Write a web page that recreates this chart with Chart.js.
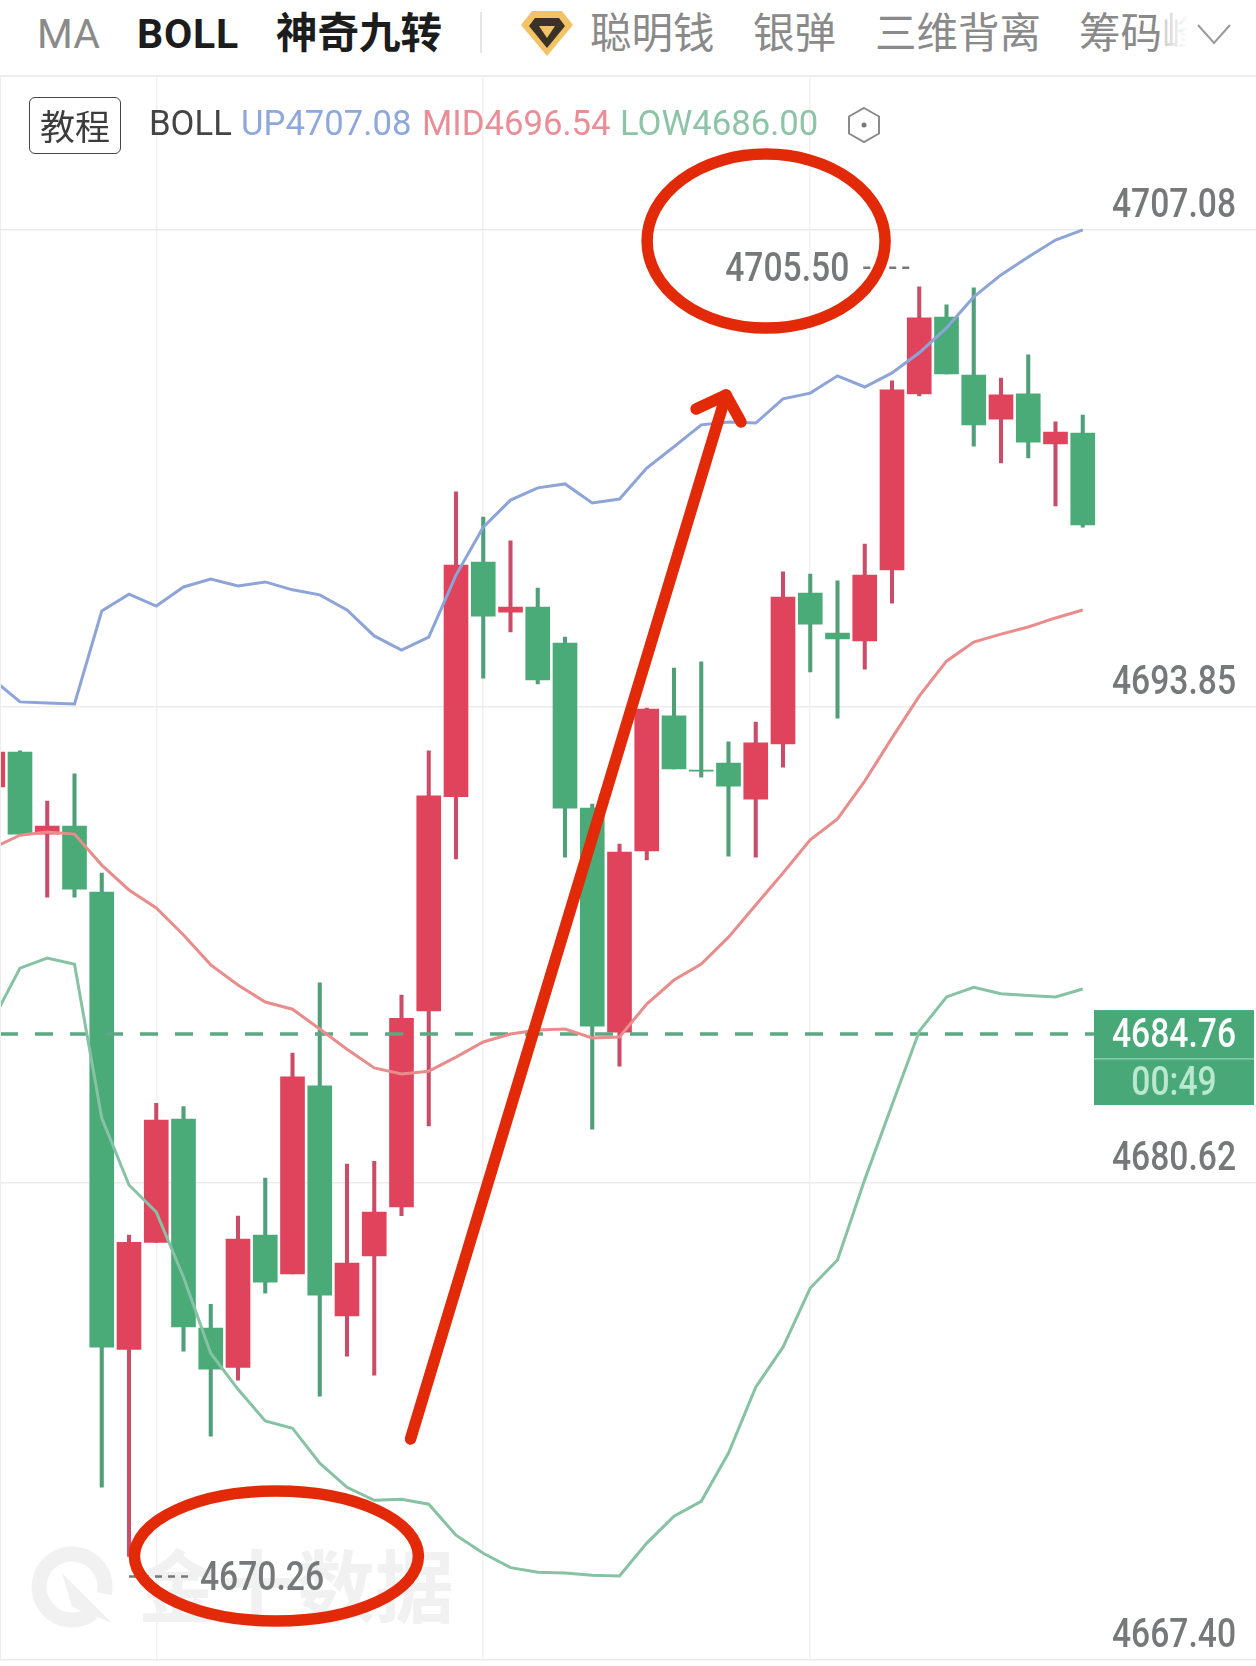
<!DOCTYPE html>
<html>
<head>
<meta charset="utf-8">
<title>BOLL</title>
<script src="https://cdn.jsdelivr.net/npm/chart.js@4/dist/chart.umd.min.js"></script>
<style>
  html, body { margin: 0; background: #fff; width: 1256px; height: 1666px; overflow: hidden; }
  body { position: relative; font-family: Roboto, "Noto Sans CJK SC", sans-serif; }
  .t { position: absolute; white-space: nowrap; line-height: 1; }
  #tabs .t { top: 14px; font-size: 41px; color: #8a8a8a; font-family: Roboto, "Noto Sans CJK SC", sans-serif; }
  #tabs .cn { font-size: 41.500px; top: 13px; }
  #tabs .on { color: #1c1c1c; font-weight: 700; }
  #fade { position: absolute; left: 1164px; top: 0; width: 80px; height: 70px; background: linear-gradient(to right, rgba(255,255,255,0.6), #fff 24px); }
  #sep { position: absolute; left: 480px; top: 12px; width: 2px; height: 41px; background: #e6e6e6; }
  #line { position: absolute; left: 0; top: 75px; width: 1256px; height: 2px; background: #ededed; }
  #edge { position: absolute; left: 0; top: 75px; width: 1px; height: 1585px; background: #ededed; }
  #wrap { position: absolute; left: 0; top: 75px; width: 1256px; height: 1591px; }
  #btn { position: absolute; left: 29px; top: 97px; width: 92px; height: 57px; border: 1px solid #444; border-radius: 6px; box-sizing: border-box;
         font: 35px/54px "Noto Sans CJK SC", sans-serif; color: #3c3c3c; text-align: center; }
  #legend .t { top: 106px; font-size: 34.700px; }
</style>
</head>
<body>
<div id="wrap"><canvas id="grafica"></canvas></div>

<div id="tabs">
  <span class="t" style="left:37px">MA</span>
  <span class="t on" style="left:137px;letter-spacing:0.8px">BOLL</span>
  <span class="t on cn" style="left:276px">神奇九转</span>
  <span class="t cn" style="left:590px">聪明钱</span>
  <span class="t cn" style="left:753px">银弹</span>
  <span class="t cn" style="left:875px">三维背离</span>
  <span class="t cn" style="left:1079px">筹码峰</span>
</div>
<div id="fade"></div>
<div id="sep"></div>
<svg style="position:absolute;left:518px;top:8px" width="58" height="50" viewBox="0 0 58 50">
  <path d="M14 3 H44 L55 17 L29 48 L3 17 Z" fill="#f3c266"/>
  <path d="M17 10 H41 L47 18 L29 40 L11 18 Z" fill="#3a3226"/>
  <path d="M21 18 H37 L29 30 Z" fill="#f3c266"/>
</svg>
<svg style="position:absolute;left:1196px;top:22px" width="36" height="24" viewBox="0 0 36 24">
  <path d="M2 3 L18 21 L34 3" fill="none" stroke="#9a9a9a" stroke-width="2"/>
</svg>
<div id="line"></div>
<div id="edge"></div>

<div id="btn">教程</div>
<div id="legend">
  <span class="t" style="left:149px;color:#444">BOLL</span>
  <span class="t" style="left:241px;color:#8fa8dc">UP4707.08</span>
  <span class="t" style="left:422px;color:#e98e96">MID4696.54</span>
  <span class="t" style="left:620px;color:#8dc4a8">LOW4686.00</span>
</div>
<svg style="position:absolute;left:845px;top:106px" width="38" height="38" viewBox="0 0 38 38">
  <path d="M19 2 L34 10.500 V27.500 L19 36 L4 27.500 V10.500 Z" fill="none" stroke="#8a8a8a" stroke-width="2"/>
  <circle cx="19" cy="19" r="2.500" fill="#777"/>
</svg>

<script>
// candles, oldest first. the first one is cut by the left edge
const opens = [4691.62, 4692.59, 4690.31, 4690.53, 4688.70, 4676.01, 4678.98, 4682.40, 4676.60, 4675.51, 4679.18,
  4678.10, 4683.32, 4676.94, 4678.60, 4679.96, 4685.40, 4691.35, 4697.86, 4696.47, 4696.61,
  4695.61, 4691.03, 4684.81, 4689.84, 4693.59, 4692.09, 4692.28, 4691.28, 4692.81, 4697.00,
  4695.89, 4695.67, 4697.64, 4702.53, 4704.66, 4703.05, 4701.83, 4702.53, 4701.14, 4701.44];
const closes = [4692.59, 4690.31, 4690.53, 4688.78, 4676.07, 4678.98, 4682.37, 4676.63, 4675.46, 4679.07, 4677.87,
  4683.57, 4677.51, 4678.40, 4679.82, 4685.20, 4691.37, 4697.78, 4696.36, 4696.61, 4694.59,
  4691.03, 4684.98, 4689.81, 4693.78, 4692.12, 4692.06, 4691.64, 4692.84, 4696.89, 4696.14,
  4695.73, 4697.50, 4702.64, 4704.64, 4703.08, 4701.67, 4702.50, 4701.19, 4701.47, 4698.89];
const highs = [4692.59, 4692.62, 4691.23, 4691.98, 4689.23, 4679.18, 4682.84, 4682.75, 4677.26, 4679.71, 4680.76,
  4684.23, 4686.18, 4681.15, 4681.23, 4685.84, 4692.62, 4699.81, 4699.11, 4698.45, 4697.14,
  4695.78, 4691.14, 4690.03, 4693.81, 4694.92, 4695.09, 4692.87, 4693.42, 4697.59, 4697.53,
  4697.34, 4698.36, 4702.89, 4705.50, 4705.00, 4705.47, 4702.97, 4703.61, 4701.75, 4701.94];
const lows = [4691.62, 4690.31, 4688.56, 4688.56, 4672.18, 4670.26, 4678.98, 4675.96, 4673.60, 4675.15, 4677.57,
  4678.10, 4674.71, 4675.82, 4675.29, 4679.72, 4682.21, 4689.62, 4694.64, 4695.92, 4694.48,
  4689.67, 4682.12, 4683.87, 4689.59, 4692.12, 4691.89, 4689.70, 4689.67, 4692.17, 4694.81,
  4693.53, 4694.89, 4696.72, 4702.47, 4703.08, 4701.08, 4700.61, 4700.75, 4699.42, 4698.83];

const bollUp = [4694.61, 4693.98, 4693.95, 4693.92, 4696.50, 4696.97, 4696.64, 4697.17, 4697.39, 4697.20, 4697.31,
  4697.09, 4696.95, 4696.53, 4695.81, 4695.42, 4695.78, 4697.50, 4698.83, 4699.58, 4699.92,
  4700.03, 4699.50, 4699.61, 4700.47, 4701.06, 4701.67, 4701.75, 4701.72, 4702.39, 4702.55,
  4703.03, 4702.72, 4703.11, 4703.67, 4704.36, 4705.22, 4705.83, 4706.33, 4706.80, 4707.08];
const bollMid = [4689.92, 4690.28, 4690.37, 4690.31, 4689.45, 4688.76, 4688.26, 4687.51, 4686.68, 4686.12, 4685.65,
  4685.45, 4684.90, 4684.34, 4683.82, 4683.65, 4683.73, 4684.12, 4684.54, 4684.76, 4684.87,
  4684.90, 4684.65, 4684.68, 4685.59, 4686.26, 4686.70, 4687.45, 4688.34, 4689.23, 4690.15,
  4690.73, 4691.78, 4692.98, 4694.14, 4695.11, 4695.64, 4695.86, 4696.06, 4696.31, 4696.53];
const bollLow = [4685.15, 4686.59, 4686.87, 4686.70, 4682.43, 4680.57, 4679.82, 4678.01, 4675.90, 4674.90, 4674.02,
  4673.82, 4672.85, 4672.18, 4671.82, 4671.85, 4671.71, 4670.85, 4670.35, 4669.95, 4669.82,
  4669.80, 4669.74, 4669.72, 4670.63, 4671.38, 4671.79, 4673.13, 4674.96, 4676.07, 4677.71,
  4678.49, 4680.72, 4682.79, 4684.84, 4685.79, 4686.06, 4685.88, 4685.83, 4685.79, 4686.01];

const priceTicks = [4707.08, 4693.85, 4680.62, 4667.40];
const timeTicks = [6, 18, 30];
const lastPrice = 4684.76;
const countdown = '00:49';

// red marks somebody drew on the screenshot: [candle index, price]
const arrowLine = [[15.33, 4673.52], [26.91, 4702.50]];
const arrowHead = [[25.81, 4702.11], [26.91, 4702.50], [27.46, 4701.75]];
const circleHigh = [28.38, 4706.77];
const circleLow = [10.41, 4670.27];

const RED = '#e0435c', GREEN = '#4aab78', RED_WICK = '#c94d68', GREEN_WICK = '#4f9f78';
const GREY_TEXT = '#77787a';
const xMin = 0.266, xMax = 46.358;

const pts = arr => arr.map((v, i) => ({x: i, y: v}));
const isUp = i => closes[i] >= opens[i];
const idx = opens.map((_, i) => i);

const lineDs = (label, arr, color) => ({
  type: 'line', label, data: pts(arr), borderColor: color, borderWidth: 3,
  pointRadius: 0, tension: 0, order: 0
});

// the app uses a narrow DIN like face, no such font here so squeeze Roboto
const narrowText = (ctx, text, x, y, align, color) => {
  ctx.save();
  ctx.translate(x, y + 3);
  ctx.scale(0.82, 1);
  ctx.font = '500 41px Roboto';
  ctx.textBaseline = 'middle';
  ctx.textAlign = align;
  ctx.fillStyle = color;
  ctx.fillText(text, 0, 0);
  ctx.restore();
};

const annotate = {
  id: 'annotate',
  beforeDatasetsDraw(chart) {
    const ctx = chart.ctx, y = chart.scales.y;
    // watermark
    ctx.save();
    ctx.fillStyle = '#f1f1f1';
    ctx.strokeStyle = '#f1f1f1';
    ctx.font = 'bold 79px "Noto Sans CJK SC"';
    ctx.textBaseline = 'middle';
    ctx.fillText('金十数据', 138, 1512);
    ctx.lineWidth = 15;
    ctx.beginPath();
    ctx.arc(72, 1512, 33, 0.9, Math.PI * 2 + 0.2);
    ctx.stroke();
    ctx.beginPath();
    ctx.moveTo(62, 1498); ctx.lineTo(112, 1548); ctx.lineTo(72, 1532);
    ctx.closePath();
    ctx.fill();
    ctx.restore();
    // price labels sit just above their grid line
    y.ticks.forEach(t => {
      narrowText(ctx, t.value.toFixed(2), 1236, y.getPixelForValue(t.value) - 26, 'right', GREY_TEXT);
    });
  },
  afterDatasetsDraw(chart) {
    const ctx = chart.ctx, x = chart.scales.x, y = chart.scales.y;
    const px = p => [x.getPixelForValue(p[0]), y.getPixelForValue(p[1])];
    ctx.save();

    // highest and lowest labels
    const hi = Math.max(...highs), lo = Math.min(...lows);
    const hiX = x.getPixelForValue(highs.indexOf(hi)), hiY = y.getPixelForValue(hi) - 19;
    const loX = x.getPixelForValue(lows.indexOf(lo)), loY = y.getPixelForValue(lo) + 20;
    ctx.strokeStyle = GREY_TEXT;
    ctx.lineWidth = 2.5;
    ctx.setLineDash([7, 6]);
    narrowText(ctx, hi.toFixed(2), hiX - 70, hiY, 'right', GREY_TEXT);
    ctx.beginPath(); ctx.moveTo(hiX - 56, hiY); ctx.lineTo(hiX - 7, hiY); ctx.stroke();
    narrowText(ctx, lo.toFixed(2), loX + 71, loY, 'left', GREY_TEXT);
    ctx.beginPath(); ctx.moveTo(loX, loY); ctx.lineTo(loX + 64, loY); ctx.stroke();
    ctx.setLineDash([]);

    // price badge
    const rightX = 1254, leftX = 1094;
    const midY = y.getPixelForValue(lastPrice);
    ctx.fillStyle = '#48a878';
    ctx.fillRect(leftX, midY - 24, rightX - leftX, 95);
    ctx.fillStyle = '#8ccdab';
    ctx.fillRect(leftX, midY + 24, rightX - leftX, 1.5);
    narrowText(ctx, lastPrice.toFixed(2), (leftX + rightX) / 2, midY, 'center', '#fff');
    narrowText(ctx, countdown, (leftX + rightX) / 2, midY + 48, 'center', '#b9e8cf');

    // hand drawn marks
    ctx.strokeStyle = '#e22a08';
    ctx.lineCap = 'round';
    ctx.lineJoin = 'round';
    ctx.lineWidth = 11.5;
    ctx.beginPath();
    const c1 = px(circleHigh), c2 = px(circleLow);
    ctx.ellipse(c1[0], c1[1], 119, 87, 0, 0, Math.PI * 2);
    ctx.stroke();
    ctx.beginPath();
    ctx.ellipse(c2[0], c2[1], 142, 65, 0, 0, Math.PI * 2);
    ctx.stroke();
    ctx.beginPath();
    ctx.moveTo(...px(arrowLine[0]));
    ctx.lineTo(...px(arrowLine[1]));
    ctx.stroke();
    ctx.beginPath();
    arrowHead.forEach((p, i) => i ? ctx.lineTo(...px(p)) : ctx.moveTo(...px(p)));
    ctx.stroke();
    ctx.restore();
  }
};

const chart = new Chart(document.querySelector('#grafica'), {
  type: 'bar',
  data: {
    datasets: [
      lineDs('UP', bollUp, '#8da4d9'),
      lineDs('MID', bollMid, '#e88c8c'),
      lineDs('LOW', bollLow, '#86c2a3'),
      {
        type: 'line', label: 'last', data: [{x: xMin, y: lastPrice}, {x: xMax, y: lastPrice}],
        borderColor: '#5ba882', borderWidth: 3.500, borderDash: [18, 17], pointRadius: 0, order: 1
      },
      {
        label: 'body', data: idx.map(i => ({x: i, y: [opens[i], closes[i]]})),
        backgroundColor: idx.map(i => isUp(i) ? RED : GREEN), barThickness: 24, order: 2
      },
      {
        label: 'wick', data: idx.map(i => ({x: i, y: [lows[i], highs[i]]})),
        backgroundColor: idx.map(i => isUp(i) ? RED_WICK : GREEN_WICK), barThickness: 3.400, order: 3
      }
    ]
  },
  options: {
    responsive: true,
    maintainAspectRatio: false,
    animation: false,
    events: [],
    layout: { padding: { bottom: 6.5 } },
    datasets: { bar: { grouped: false } },
    plugins: { legend: { display: false }, tooltip: { enabled: false } },
    scales: {
      x: {
        type: 'linear', min: xMin, max: xMax, offset: false,
        afterBuildTicks: s => { s.ticks = timeTicks.map(v => ({value: v})); },
        ticks: { display: false },
        border: { display: false },
        grid: { color: '#f1f1f1', lineWidth: 1.5, drawTicks: false, offset: false }
      },
      y: {
        position: 'right', min: 4667.40, max: 4711.38,
        afterBuildTicks: s => { s.ticks = priceTicks.map(v => ({value: v})); },
        afterFit: s => { s.width = 0; },
        ticks: { display: false },
        border: { display: false },
        grid: { color: '#ececec', lineWidth: 1.5, drawTicks: false }
      }
    }
  },
  plugins: [annotate]
});
</script>
</body>
</html>
